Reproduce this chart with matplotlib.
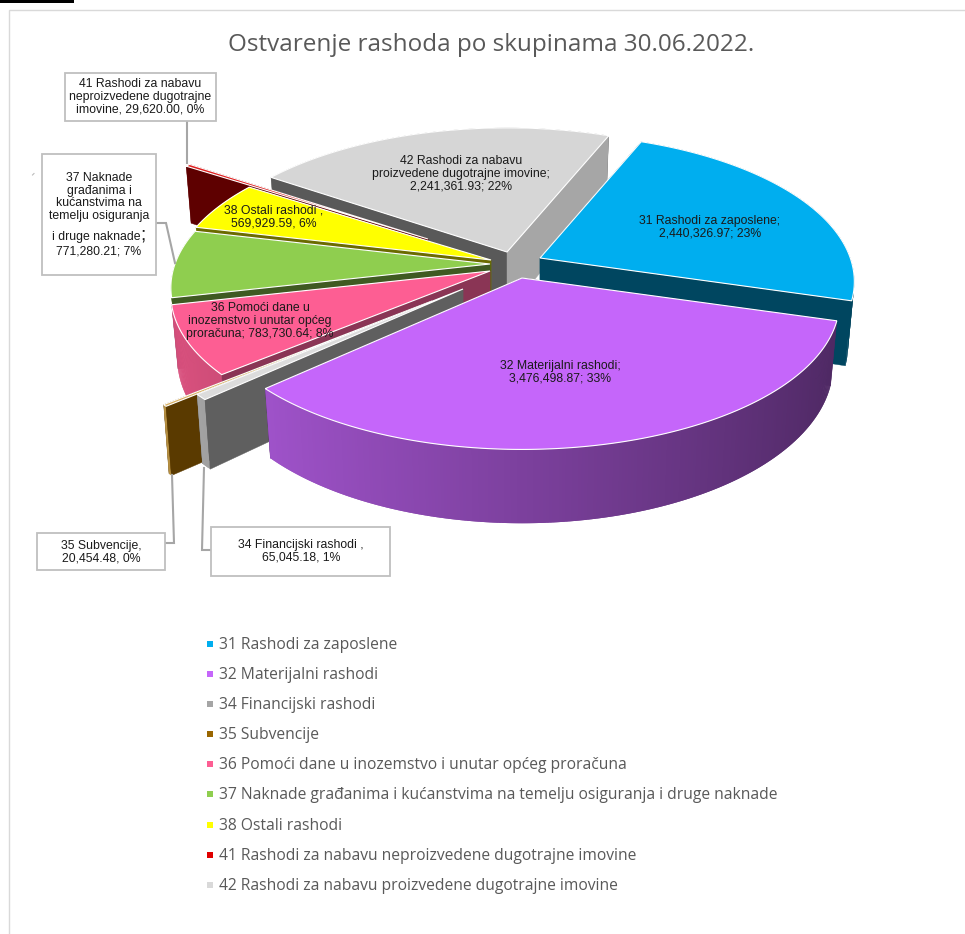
import numpy as np
import matplotlib
matplotlib.use("Agg")
import matplotlib.pyplot as plt
from matplotlib.patches import Polygon, Rectangle
from matplotlib.colors import to_rgb

TITLE = "Ostvarenje rashoda po skupinama 30.06.2022."
categories = ["31 Rashodi za zaposlene", "32 Materijalni rashodi", "34 Financijski rashodi ",
              "35 Subvencije", "36 Pomoći dane u inozemstvo i unutar općeg proračuna",
              "37 Naknade građanima i kućanstvima na temelju osiguranja i druge naknade",
              "38 Ostali rashodi ", "41 Rashodi za nabavu neproizvedene dugotrajne imovine",
              "42 Rashodi za nabavu proizvedene dugotrajne imovine"]
values = [2440326.97, 3476498.87, 65045.18, 20454.48, 783730.64, 771280.21, 569929.59, 29620.00, 2241361.93]
top_colors = ["#00aeef", "#c566fa", "#dcdcdc", "#d8b060", "#fd5e93", "#8fce4f", "#ffff00", "#e02020", "#d6d6d6"]
legend_colors = ["#00aeef", "#c566fa", "#a5a5a5", "#996600", "#fd5e93", "#8fce4f", "#ffff00", "#e00000", "#d9d9d9"]
arc_base = ["#00aeef", "#c566fa", "#c8c8c8", "#e0b050", "#fd5e93", "#8fce4f", "#ffff00", "#7a0000", "#a5a5a5"]
# wall colours for the radial faces: (counter-clockwise edge, clockwise edge)
wall_colors = [("#004660", "#004660"), ("#4f2a63", "#4f2a63"), ("#5f5f5f", "#5f5f5f"),
               ("#5a3a00", "#5a3a00"), ("#8a3555", "#8a3555"), ("#3f5a22", "#3f5a22"),
               ("#6b6b00", "#6b6b00"), ("#5e0000", "#5e0000"), ("#595959", "#a6a6a6")]
# pixel position of each slice's tip (exploded pie) and horizontal scale
tips = [(540, 258), (522, 278), (463, 289), (432, 301), (490, 271), (490, 264), (491, 260), (428, 239), (507, 252)]
x_scale = [0.985, 0.995, 1, 1, 1, 1, 1, 1, 0.99]
draw_order = [8, 7, 6, 5, 4, 3, 2, 0, 1]

START = 68.0
A, B, P, D, SHRINK = 315.0, 144.0, 0.16, 62.0, 0.98


def project(i, ang, r=1.0, low=False):
    tip = tips[i]
    a = np.radians(ang)
    x, y = r * np.cos(a), r * np.sin(a)
    w = 1 + P * y
    sx, sy = A * x_scale[i] * x / w, -B * y / w
    if low:
        sx, sy = sx * SHRINK, sy + D / w
    return tip[0] + sx, tip[1] + sy


fig = plt.figure(figsize=(9.65, 9.34), dpi=100, facecolor="white")
ax = fig.add_axes([0, 0, 1, 1])
ax.set_xlim(0, 965)
ax.set_ylim(934, 0)
ax.axis("off")

ax.add_patch(Rectangle((0, 0), 74, 3, fc="black", ec="none", zorder=1))
ax.add_patch(Rectangle((8.5, 10), 1000, 1000, fc="white", ec="#d9d9d9", lw=1, zorder=1))

total = sum(values)
spans = [v / total * 360 for v in values]
starts = START - np.concatenate([[0], np.cumsum(spans)[:-1]])


def radial_wall(i, ang, col, z):
    pts = [project(i, ang, 0), project(i, ang), project(i, ang, low=True), project(i, ang, 0, low=True)]
    ax.add_patch(Polygon(pts, fc=col, ec=col, lw=0.3, zorder=z))


z = 2
for i in draw_order:
    a0, a1 = starts[i], starts[i] - spans[i]
    col0, col1 = wall_colors[i]
    front0 = np.cos(np.radians(a0)) < 0
    front1 = np.cos(np.radians(a1)) > 0
    if not front0:
        radial_wall(i, a0, col0, z)
    if not front1:
        radial_wall(i, a1, col1, z)
    n = max(int(spans[i] * 2), 2)
    grid = np.linspace(a0, a1, n + 1)
    base = np.array(to_rgb(arc_base[i]))
    for k in range(n):
        g0, g1 = grid[k], grid[min(k + 2, n)]
        f = 0.63 - 0.24 * np.cos(np.radians((grid[k] + grid[k + 1]) / 2))
        ax.add_patch(Polygon([project(i, g0), project(i, g1), project(i, g1, low=True), project(i, g0, low=True)],
                             fc=tuple(base * f), ec="none", zorder=z + 0.1))
    if front0:
        radial_wall(i, a0, col0, z + 0.2)
    if front1:
        radial_wall(i, a1, col1, z + 0.2)
    arc = np.linspace(a0, a1, n * 2 + 1)
    top = [project(i, 0, 0)] + [project(i, g) for g in arc]
    ax.add_patch(Polygon(top, fc=top_colors[i], ec="white", lw=0.8, zorder=z + 0.5, joinstyle="miter"))
    z += 1

txt = dict(family="Liberation Sans", fontsize=8.8, color="#1a1a1a", ha="center", va="center",
           zorder=40, linespacing=1.08)
ax.text(710, 227, "31 Rashodi za zaposlene;\n2,440,326.97; 23%", **txt)
ax.text(560, 372, "32 Materijalni rashodi;\n3,476,498.87; 33%", **txt)
ax.text(461, 174, "42 Rashodi za nabavu\nproizvedene dugotrajne imovine;\n2,241,361.93; 22%", **txt)
ax.text(274, 217, "38 Ostali rashodi ,\n569,929.59, 6%", **txt)
ax.text(260, 321, "36 Pomoći dane u\ninozemstvo i unutar općeg\nproračuna; 783,730.64; 8%", **txt)


def callout(box, leader, lines):
    x0, y0, x1, y1 = box
    ax.plot(*zip(*leader), color="#a6a6a6", lw=1.5, zorder=30, solid_joinstyle="miter")
    ax.add_patch(Rectangle((x0, y0), x1 - x0, y1 - y0, fc="white", ec="#bfbfbf", lw=1.3, zorder=31))
    for s, x, y in lines:
        ax.text(x, y, s, **txt)


callout((65, 73, 216, 121), [(187, 121), (187, 163)],
        [("41 Rashodi za nabavu\nneproizvedene dugotrajne\nimovine, 29,620.00, 0%", 140, 97)])
callout((42, 154, 156, 275), [(156, 223), (166, 223), (175, 263)],
        [("37 Naknade\ngrađanima i\nkućanstvima na\ntemelju osiguranja", 99, 197),
         ("i druge naknade", 96, 237), ("771,280.21; 7%", 99, 252)])
ax.text(143, 235, ";", family="Liberation Sans", fontsize=14, color="#1a1a1a", ha="center", va="center", zorder=40)
callout((37, 533, 165, 570), [(165, 543), (174, 543), (172, 475)], [("35 Subvencije,\n20,454.48, 0%", 101, 552)])
callout((211, 527, 390, 576), [(211, 550), (202, 550), (204, 468)], [("34 Financijski rashodi ,\n65,045.18, 1%", 301, 551)])
ax.plot([32.5, 34], [175, 173.5], color="#bbbbbb", lw=0.8, zorder=3)

ax.text(491, 45, TITLE, family="Open Sans", fontsize=17.5, color="#595959", ha="center", va="center", zorder=40)

leg_y = [644, 674, 704, 734, 764, 794, 825, 855, 885]
for name, col, y in zip(categories, legend_colors, leg_y):
    ax.add_patch(Rectangle((207, y - 3), 6, 6, fc=col, ec="none", zorder=40))
    ax.text(219, y + 1, name.strip(), family="Open Sans", fontsize=11.25, color="#595959", ha="left", va="center", zorder=40)

fig.savefig("out.png", dpi=100)
